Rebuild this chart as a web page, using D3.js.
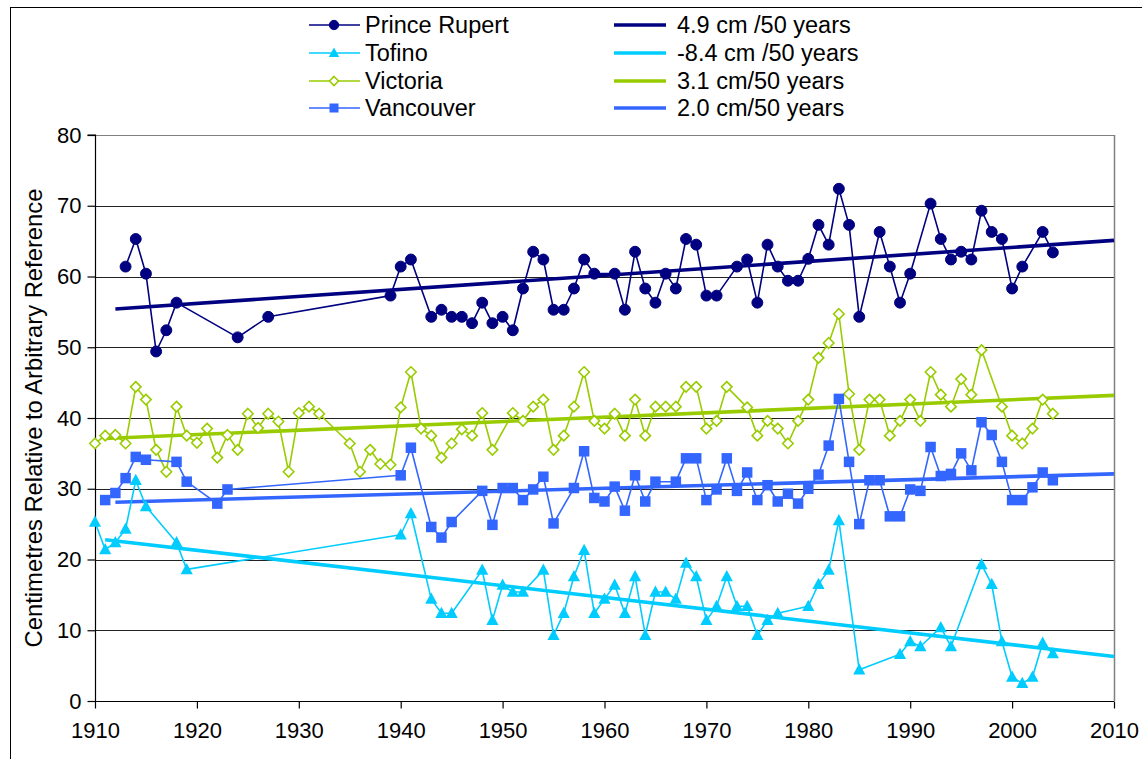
<!DOCTYPE html>
<html>
<head>
<meta charset="utf-8">
<script src="https://cdn.jsdelivr.net/npm/d3@7"></script>
<style>
  html, body { margin: 0; padding: 0; background: #fff; }
  svg { display: block; font-family: "Liberation Sans", Arial, sans-serif; }
</style>
</head>
<body>
<svg id="chart" width="1142" height="759"></svg>
<script>
// ---------------- DATA ----------------
const stationNames = ["Prince Rupert", "Tofino", "Victoria", "Vancouver"];
const trendLabels = ["4.9 cm /50 years", "-8.4 cm /50 years", "3.1 cm/50 years", "2.0 cm/50 years"];

const princeRupertYears = [1913,1914,1915,1916,1917,1918,1924,1927,1939,1940,1941,1943,1944,1945,1946,1947,1948,1949,1950,1951,1952,1953,1954,1955,1956,1957,1958,1959,1961,1962,1963,1964,1965,1966,1967,1968,1969,1970,1971,1973,1974,1975,1976,1977,1978,1979,1980,1981,1982,1983,1984,1985,1987,1988,1989,1990,1992,1993,1994,1995,1996,1997,1998,1999,2000,2001,2003,2004];
const princeRupertValues = [61.4,65.3,60.4,49.4,52.4,56.3,51.4,54.3,57.3,61.4,62.4,54.3,55.3,54.3,54.3,53.4,56.3,53.4,54.3,52.4,58.3,63.5,62.4,55.3,55.3,58.3,62.4,60.4,60.4,55.3,63.5,58.3,56.3,60.4,58.3,65.3,64.5,57.3,57.3,61.4,62.4,56.3,64.5,61.4,59.4,59.4,62.5,67.3,64.5,72.4,67.3,54.3,66.3,61.4,56.3,60.4,70.3,65.3,62.4,63.5,62.4,69.3,66.3,65.3,58.3,61.4,66.3,63.4];

const tofinoYears = [1910,1911,1912,1913,1914,1915,1918,1919,1940,1941,1943,1944,1945,1948,1949,1950,1951,1952,1954,1955,1956,1957,1958,1959,1960,1961,1962,1963,1964,1965,1966,1967,1968,1969,1970,1971,1972,1973,1974,1975,1976,1977,1980,1981,1982,1983,1985,1989,1990,1991,1993,1994,1997,1998,1999,2000,2001,2002,2003,2004];
const tofinoValues = [25.3,21.4,22.4,24.3,31.2,27.5,22.4,18.6,23.5,26.5,14.4,12.4,12.4,18.5,11.4,16.4,15.4,15.4,18.5,9.3,12.4,17.6,21.3,12.4,14.4,16.4,12.4,17.6,9.3,15.4,15.4,14.4,19.5,17.6,11.4,13.4,17.6,13.4,13.4,9.3,11.4,12.4,13.4,16.5,18.5,25.5,4.4,6.6,8.4,7.7,10.4,7.7,19.3,16.5,8.4,3.4,2.5,3.4,8.2,6.7];

const victoriaYears = [1910,1911,1912,1913,1914,1915,1916,1917,1918,1919,1920,1921,1922,1923,1924,1925,1926,1927,1928,1929,1930,1931,1932,1935,1936,1937,1938,1939,1940,1941,1942,1943,1944,1945,1946,1947,1948,1949,1951,1952,1953,1954,1955,1956,1957,1958,1959,1960,1961,1962,1963,1964,1965,1966,1967,1968,1969,1970,1971,1972,1974,1975,1976,1977,1978,1979,1980,1981,1982,1983,1984,1985,1986,1987,1988,1989,1990,1991,1992,1993,1994,1995,1996,1997,1999,2000,2001,2002,2003,2004];
const victoriaValues = [36.4,37.5,37.6,36.4,44.4,42.6,35.5,32.4,41.6,37.5,36.5,38.5,34.4,37.6,35.5,40.6,38.6,40.6,39.5,32.4,40.7,41.6,40.6,36.4,32.4,35.5,33.5,33.4,41.5,46.5,38.5,37.5,34.4,36.4,38.4,37.5,40.7,35.5,40.7,39.6,41.6,42.6,35.5,37.5,41.6,46.5,39.6,38.5,40.6,37.5,42.6,37.5,41.6,41.6,41.6,44.4,44.4,38.5,39.6,44.4,41.5,37.5,39.6,38.5,36.4,39.6,42.6,48.5,50.6,54.7,43.4,35.5,42.6,42.6,37.5,39.6,42.6,39.6,46.5,43.3,41.6,45.5,43.3,49.6,41.6,37.5,36.4,38.5,42.6,40.6];

const vancouverYears = [1911,1912,1913,1914,1915,1918,1919,1922,1923,1940,1941,1943,1944,1945,1948,1949,1950,1951,1952,1953,1954,1955,1957,1958,1959,1960,1961,1962,1963,1964,1965,1967,1968,1969,1970,1971,1972,1973,1974,1975,1976,1977,1978,1979,1980,1981,1982,1983,1984,1985,1986,1987,1988,1989,1990,1991,1992,1993,1994,1995,1996,1997,1998,1999,2000,2001,2002,2003,2004];
const vancouverValues = [28.4,29.4,31.5,34.5,34.1,33.8,31.0,27.9,29.9,31.9,35.8,24.6,23.1,25.3,29.7,24.9,30.1,30.1,28.4,29.9,31.7,25.1,30.1,35.3,28.7,28.2,30.3,26.9,31.9,28.2,31.0,31.0,34.3,34.3,28.4,29.9,34.3,29.7,32.3,28.4,30.5,28.2,29.3,27.9,30.0,32.0,36.1,42.7,33.8,25.0,31.2,31.2,26.1,26.1,29.9,29.7,35.9,31.8,32.1,35.0,32.6,39.4,37.6,33.8,28.4,28.4,30.2,32.3,31.2];

// linear trend end points (year, value)
const trendYears = [[1912, 2010], [1911, 2010], [1911, 2010], [1912, 2010]];
const trendValues = [[55.4, 65.1], [22.8, 6.3], [37.1, 43.2], [28.1, 32.1]];

const xTicks = [1910,1920,1930,1940,1950,1960,1970,1980,1990,2000,2010];
const yTicks = [0,10,20,30,40,50,60,70,80];
const yTitle = "Centimetres Relative to Arbitrary Reference";

// ---------------- STYLE ----------------
const colors = ["#000080", "#00CCFF", "#99CC00", "#3366FF"];
const markers = ["circle", "triangle", "diamond", "square"];
const W = 1142, H = 759;
const plot = { left: 95, right: 1114, top: 135, bottom: 701 };

const svg = d3.select("#chart");
svg.append("rect").attr("width", W).attr("height", H).attr("fill", "#fff");
// outer frame
svg.append("rect").attr("x", 10.5).attr("y", 7.5).attr("width", W + 20).attr("height", H + 20)
  .attr("fill", "none").attr("stroke", "#000").attr("stroke-width", 1);

const x = d3.scaleLinear().domain([1910, 2010]).range([plot.left, plot.right]);
const y = d3.scaleLinear().domain([0, 80]).range([plot.bottom, plot.top]);

// gridlines
svg.append("g").selectAll("line").data(yTicks.filter(d => d > 0)).join("line")
  .attr("x1", plot.left).attr("x2", plot.right)
  .attr("y1", d => Math.round(y(d)) + 0.5).attr("y2", d => Math.round(y(d)) + 0.5)
  .attr("stroke", d => d === 80 ? "#808080" : "#222").attr("stroke-width", 1);
// right plot border
svg.append("line").attr("x1", plot.right + 0.5).attr("x2", plot.right + 0.5)
  .attr("y1", plot.top).attr("y2", plot.bottom).attr("stroke", "#808080").attr("stroke-width", 1.5);

// axes
const yAxis = d3.axisLeft(y).tickValues(yTicks).tickSize(8).tickPadding(6).tickFormat(d3.format("d"));
const gy = svg.append("g").attr("transform", `translate(${plot.left + 0.5},0)`).call(yAxis);
const xAxis = d3.axisBottom(x).tickValues(xTicks).tickSize(7).tickPadding(14).tickFormat(d3.format("d"));
const gx = svg.append("g").attr("transform", `translate(0,${plot.bottom + 0.5})`).call(xAxis);
[gx, gy].forEach(g => {
  g.selectAll("path.domain").attr("stroke", "#000").attr("stroke-width", 1.2);
  g.selectAll(".tick line").attr("stroke", "#000").attr("stroke-width", 1.2);
  g.selectAll("text").attr("font-size", 22).attr("fill", "#000")
    .attr("font-family", "'Liberation Sans', Arial, sans-serif");
});
gy.selectAll(".domain").attr("d", `M-8,${plot.top}H0V${plot.bottom}`);
gx.selectAll(".domain").attr("d", `M${plot.left},0H${plot.right}`);

// y title
svg.append("text")
  .attr("transform", `translate(42,${(plot.top + plot.bottom) / 2}) rotate(-90)`)
  .attr("text-anchor", "middle").attr("font-size", 23.8).attr("fill", "#000")
  .text(yTitle);

// marker drawing
function drawMarker(g, type, cx, cy, color, s) {
  if (type === "circle") {
    g.append("circle").attr("cx", cx).attr("cy", cy).attr("r", s * 0.52).attr("fill", color).attr("stroke", color);
  } else if (type === "square") {
    g.append("rect").attr("x", cx - s / 2).attr("y", cy - s / 2).attr("width", s).attr("height", s).attr("fill", color);
  } else if (type === "triangle") {
    const h = s * 1.0;
    g.append("path").attr("d", `M${cx},${cy - h * 0.62}L${cx + s * 0.58},${cy + h * 0.45}L${cx - s * 0.58},${cy + h * 0.45}Z`).attr("fill", color);
  } else if (type === "diamond") {
    const r = s * 0.5;
    g.append("path").attr("d", `M${cx},${cy - r}L${cx + r},${cy}L${cx},${cy + r}L${cx - r},${cy}Z`)
      .attr("fill", "#fff").attr("stroke", color).attr("stroke-width", 1.6);
  }
}

const seriesYears = [princeRupertYears, tofinoYears, victoriaYears, vancouverYears];
const seriesValues = [princeRupertValues, tofinoValues, victoriaValues, vancouverValues];

const line = d3.line().x(d => x(d[0])).y(d => y(d[1]));

// trend lines
trendYears.forEach((ty, i) => {
  const pts = ty.map((yr, j) => [yr, trendValues[i][j]]);
  svg.append("path").attr("d", line(pts)).attr("fill", "none")
    .attr("stroke", colors[i]).attr("stroke-width", 3.6).attr("stroke-linecap", "butt");
});

// data series
seriesYears.forEach((yrs, i) => {
  const pts = yrs.map((yr, j) => [yr, seriesValues[i][j]]);
  const g = svg.append("g");
  g.append("path").attr("d", line(pts)).attr("fill", "none")
    .attr("stroke", colors[i]).attr("stroke-width", 1.6).attr("stroke-linejoin", "round");
  pts.forEach(p => drawMarker(g, markers[i], x(p[0]), y(p[1]), colors[i], 10.5));
});

// legend
const legRowY = [25, 53, 81, 108];
const leg = svg.append("g");
stationNames.forEach((name, i) => {
  const yy = legRowY[i];
  leg.append("line").attr("x1", 309).attr("x2", 360).attr("y1", yy).attr("y2", yy)
    .attr("stroke", colors[i]).attr("stroke-width", 1.6);
  drawMarker(leg, markers[i], 334, yy, colors[i], 9);
  leg.append("text").attr("x", 365).attr("y", yy).attr("dy", "0.36em")
    .attr("font-size", 23.5).attr("fill", "#000").text(name);
});
trendLabels.forEach((lab, i) => {
  const yy = legRowY[i];
  leg.append("line").attr("x1", 614).attr("x2", 666).attr("y1", yy).attr("y2", yy)
    .attr("stroke", colors[i]).attr("stroke-width", 3.6);
  leg.append("text").attr("x", 677).attr("y", yy).attr("dy", "0.36em")
    .attr("font-size", 23.5).attr("fill", "#000").text(lab);
});
</script>
</body>
</html>
